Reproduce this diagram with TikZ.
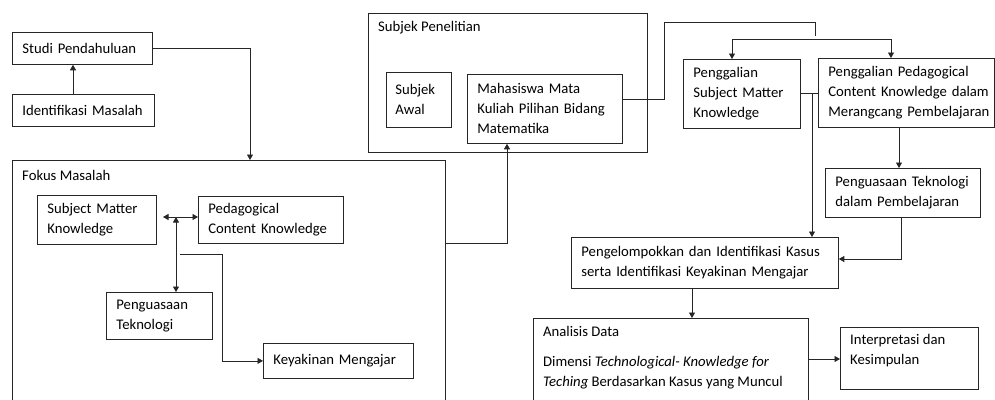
\documentclass[tikz,border=0pt]{standalone}
\usepackage{fontspec}
\setmainfont{Carlito}
\usetikzlibrary{arrows.meta}
\begin{document}
\begin{tikzpicture}[x=1pt,y=-1pt,
  box/.style={draw=black!85, line width=0.8pt, inner xsep=10pt, inner ysep=0pt, align=left, anchor=north west, font=\fontsize{14.7}{20}\selectfont},
  cont/.style={draw=black!85, line width=0.8pt, inner sep=0pt, anchor=north west},
  txt/.style={inner sep=0pt, align=left, font=\fontsize{14.7}{20}\selectfont},
  con/.style={draw=black!85, line width=0.8pt},
  arr/.style={con, -{Triangle[length=5.5pt,width=6pt]}},
  darr/.style={con, {Triangle[length=5.5pt,width=6pt]}-{Triangle[length=5.5pt,width=6pt]}}]
\fill[white] (0,0) rectangle (995,399);
\useasboundingbox (0,0) rectangle (995,399);

% left column
\node[box, text width=120pt, minimum height=32pt] (studi) at (12,32) {\mbox{Studi Pendahuluan}};
\node[box, text width=122pt, minimum height=32pt] (ident) at (12,94) {\mbox{Identifikasi Masalah}};

% Fokus Masalah container
\node[cont, minimum width=433pt, minimum height=242pt] (fokus) at (12,160) {};
\node[txt, anchor=west] (fokusT) at (22,175) {Fokus Masalah};
\node[box, text width=99pt, minimum height=49pt] (smk) at (37,195) {\mbox{Subject Matter}\\Knowledge};
\node[box, text width=125pt, minimum height=47pt] (pck) at (198,196) {Pedagogical\\\mbox{Content Knowledge}};
\node[box, text width=86pt, minimum height=47pt] (pt) at (106,292) {Penguasaan\\Teknologi};
\node[box, text width=130pt, minimum height=35pt] (ky) at (263,343) {\mbox{Keyakinan Mengajar}};

% Subjek Penelitian container
\node[cont, minimum width=279pt, minimum height=139pt] (sp) at (368,13) {};
\node[txt, anchor=west] (spT) at (378,28) {Subjek Penelitian};
\node[box, inner xsep=9pt, text width=47pt, minimum height=55pt] (awal) at (386,72) {Subjek\\Awal};
\node[box, text width=135pt, minimum height=69pt] (mhs) at (467,74) {\mbox{Mahasiswa Mata}\\\mbox{Kuliah Pilihan Bidang}\\Matematika};

% right part
\node[box, text width=97pt, minimum height=69pt] (pgsmk) at (683,59) {Penggalian\\\mbox{Subject Matter}\\Knowledge};
\node[box, text width=156pt, minimum height=69pt] (ppck) at (818,58) {\mbox{Penggalian Pedagogical}\\\mbox{Content Knowledge dalam}\\\mbox{Merangcang Pembelajaran}};
\node[box, text width=135pt, minimum height=49pt] (ptp) at (825,168) {\mbox{Penguasaan Teknologi}\\\mbox{dalam Pembelajaran}};
\node[box, text width=247pt, minimum height=51pt] (pki) at (571,237) {\mbox{Pengelompokkan dan Identifikasi Kasus}\\\mbox{serta Identifikasi Keyakinan Mengajar}};
\node[cont, minimum width=275pt, minimum height=84pt] (ad) at (533,318) {};
\node[txt, anchor=north west] (adT1) at (543,326) {Analisis Data};
\node[txt, anchor=north west] (adT2) at (543,356) {Dimensi \textit{Technological- Knowledge for}\\\textit{Teching} Berdasarkan Kasus yang Muncul};
\node[cont, minimum width=138pt, minimum height=62pt] (ik) at (840,327) {};
\node[txt, anchor=north west] (ikT) at (850,334) {Interpretasi dan\\Kesimpulan};

% connectors
\coordinate (c1) at (73,0);
\draw[arr] (ident.north -| c1) -- (studi.south -| c1);
\coordinate (c2) at (250,48);
\draw[arr] (studi.east |- c2) -- (c2) -- (fokus.north -| c2);

\coordinate (j) at (176,217);
\coordinate (jl) at (163,217);
\draw[darr] (jl) -- (pck.west |- j);
\draw[darr] (j) -- (pt.north -| j);
\coordinate (k0) at (180,254);
\coordinate (k1) at (222,254);
\draw[arr] (k0) -- (k1) |- (ky.west);

\coordinate (f1) at (507,243);
\draw[arr] (fokus.east |- f1) -- (f1) -- (mhs.south -| f1);

\coordinate (m1) at (664,99);
\coordinate (m2) at (664,22);
\coordinate (m3) at (815,22);
\coordinate (m4) at (815,36);
\draw[con] (mhs.east |- m1) -- (m1) -- (m2) -- (m3) -- (m4);
\coordinate (s1) at (732,39);
\coordinate (s2) at (891,39);
\draw[con] (s1) -- (s2);
\draw[arr] (s1) -- (pgsmk.north -| s1);
\draw[arr] (s2) -- (ppck.north -| s2);

\coordinate (p1) at (0,93);
\draw[con] (pgsmk.east |- p1) -- (ppck.west |- p1);
\coordinate (v1) at (812,93);
\draw[arr] (v1) -- (pki.north -| v1);
\coordinate (v2) at (899,0);
\draw[arr] (ppck.south -| v2) -- (ptp.north -| v2);
\coordinate (v3) at (901,259);
\draw[arr] (ptp.south -| v3) -- (v3) -- (pki.east |- v3);
\coordinate (v4) at (692,0);
\draw[arr] (pki.south -| v4) -- (ad.north -| v4);
\coordinate (v5) at (0,359);
\draw[arr] (ad.east |- v5) -- (ik.west |- v5);
\end{tikzpicture}
\end{document}
